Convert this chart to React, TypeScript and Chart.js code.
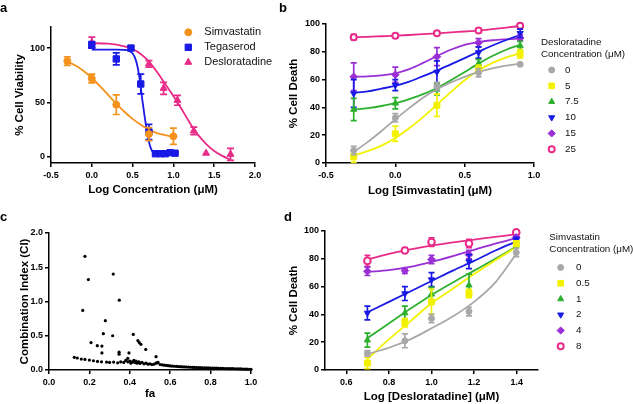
import React, { useEffect, useRef } from 'react';
import { Chart, registerables } from 'chart.js';
import { drawPoint } from 'chart.js/helpers';

Chart.register(...registerables);

const FONT = "'Liberation Sans', Arial, Helvetica, sans-serif";

const ORANGE = '#F5921E';
const BLUE = '#1A1AE6';
const PINK = '#E82B88';
const GRAY = '#A8A8A8';
const YELLOW = '#F2F200';
const GREEN = '#2DB02D';
const PURPLE = '#9A2FD6';

// ---------- Panel a ----------
const aXTicks = [-0.5, 0, 0.5, 1, 1.5, 2];
const aYTicks = [0, 50, 100];
const aSimX = [-0.3, 0, 0.3, 0.7, 1.0];
const aSimY = [88, 72, 48, 21, 19];
const aSimErr = [4, 4, 9, 6, 7.5];
const aSimCurveX = [-0.3, -0.2, -0.1, 0, 0.1, 0.2, 0.3, 0.4, 0.5, 0.6, 0.7, 0.8, 0.9, 1.0];
const aSimCurveY = [87.5, 84, 79, 72.5, 65, 57, 49, 41.5, 35, 29.5, 25, 22, 20, 18.5];
const aTegX = [0, 0.3, 0.48, 0.6, 0.7, 0.78, 0.84, 0.9, 0.96, 1.02];
const aTegY = [103, 90, 100, 67, 23, 3, 3, 3, 4, 3.5];
const aTegErr = [3, 5.5, 2, 9, 7, 1, 1, 1, 1, 1];
const aTegCurveX = [0, 0.1, 0.2, 0.3, 0.4, 0.45, 0.5, 0.53, 0.56, 0.59, 0.62, 0.65, 0.68, 0.71, 0.74, 0.78, 0.85, 1.02];
const aTegCurveY = [98.5, 98.5, 98.5, 98.5, 98.3, 97.5, 95, 91, 83, 70, 52, 36, 22, 11, 5.5, 3.3, 3, 3];
const aDesX = [0, 0.7, 0.88, 1.05, 1.25, 1.4, 1.7];
const aDesY = [105, 85.5, 63, 52, 24, 3.5, 2.5];
const aDesErr = [5, 3, 5.5, 4.5, 3.5, 0, 5.5];
const aDesCurveX = [0, 0.2, 0.4, 0.5, 0.6, 0.7, 0.8, 0.9, 1.0, 1.1, 1.2, 1.25, 1.3, 1.4, 1.5, 1.6, 1.7];
const aDesCurveY = [104.5, 104, 101.5, 99, 94.5, 87.5, 78, 67, 56, 44, 31.5, 25.5, 20.5, 12, 5.5, 1, -2.5];

// ---------- Panel b ----------
const bXTicks = [-0.5, 0, 0.5, 1];
const bYTicks = [0, 20, 40, 60, 80, 100];
const bX = [-0.3, 0, 0.3, 0.6, 0.9];
const bCurveX = [-0.3, -0.2, -0.1, 0, 0.1, 0.2, 0.3, 0.4, 0.5, 0.6, 0.7, 0.8, 0.9];
const b0Y = [9, 32.5, 55, 65, 71];
const b0Err = [3, 3, 3, 3, 1];
const b0Curve = [8, 15, 23, 31.5, 39.5, 47, 53, 58, 62, 65.5, 68, 70, 71.5];
const b5Y = [4.5, 21, 41.5, 67.5, 78.5];
const b5Err = [4, 5.5, 8, 3, 3];
const b5Curve = [5.5, 8.5, 12.5, 18, 25, 33, 42, 51, 59.5, 66.5, 72, 76, 79];
const b75Y = [38.5, 43, 53, 71.5, 84.5];
const b75Err = [8, 4, 4, 3, 3];
const b75Curve = [38.5, 39.5, 41, 43, 46, 49.5, 54, 59.5, 65.5, 71.5, 77, 81.5, 85];
const b10Y = [50, 56, 65.5, 79.5, 93.3];
const b10Err = [10, 4, 8, 4, 3];
const b10Curve = [50.5, 51.5, 53.5, 55.5, 58.5, 62.5, 66.5, 71, 75.5, 80, 84.5, 88.5, 92];
const b15Y = [62, 63.5, 76.5, 86.5, 90];
const b15Err = [10, 5.5, 6.5, 3, 2];
const b15Curve = [62, 62.3, 63, 64.5, 67.5, 72, 77, 81.5, 85, 87, 88.3, 89, 89.5];
const b25Y = [90.5, 91.5, 93.3, 95.3, 98.7];
const b25Err = [2, 1, 1, 1, 1];
const b25Curve = [90.5, 90.8, 91.2, 91.6, 92.1, 92.7, 93.3, 94, 94.6, 95.3, 96.3, 97.4, 98.6];

// ---------- Panel c ----------
const cXTicks = [0, 0.2, 0.4, 0.6, 0.8, 1.0];
const cYTicks = [0, 0.5, 1.0, 1.5, 2.0];
const cDots: [number, number][] = [
  [0.178, 1.66], [0.195, 1.32], [0.318, 1.4], [0.348, 1.02], [0.167, 0.87], [0.279, 0.72],
  [0.269, 0.53], [0.315, 0.5], [0.417, 0.52], [0.208, 0.4], [0.239, 0.355], [0.262, 0.35],
  [0.262, 0.25], [0.44, 0.43], [0.447, 0.4], [0.455, 0.375], [0.479, 0.3], [0.347, 0.26],
  [0.347, 0.23], [0.396, 0.25], [0.53, 0.195], [0.39, 0.17],
  [0.125, 0.185], [0.14, 0.175], [0.16, 0.16], [0.178, 0.155], [0.2, 0.145], [0.22, 0.135],
  [0.24, 0.125], [0.26, 0.12], [0.285, 0.115], [0.3, 0.11], [0.32, 0.115], [0.34, 0.105],
  [0.355, 0.12], [0.37, 0.11], [0.38, 0.14], [0.39, 0.12], [0.4, 0.13], [0.405, 0.1],
  [0.41, 0.115], [0.415, 0.12], [0.42, 0.14], [0.425, 0.11], [0.43, 0.13], [0.435, 0.1],
  [0.44, 0.115], [0.445, 0.12], [0.45, 0.095], [0.46, 0.11], [0.47, 0.09], [0.48, 0.1],
  [0.49, 0.085], [0.5, 0.09], [0.51, 0.08], [0.52, 0.085], [0.53, 0.1], [0.535, 0.105],
  [0.54, 0.11], [0.55, 0.08], [0.56, 0.075], [0.57, 0.07], [0.58, 0.068], [0.59, 0.063],
  [0.6, 0.06], [0.61, 0.058], [0.62, 0.055], [0.63, 0.053], [0.64, 0.05], [0.65, 0.048],
  [0.66, 0.046], [0.67, 0.045], [0.68, 0.044], [0.69, 0.042], [0.7, 0.04], [0.71, 0.039],
  [0.72, 0.038], [0.73, 0.036], [0.74, 0.035], [0.75, 0.034], [0.76, 0.033], [0.77, 0.032],
  [0.78, 0.031], [0.79, 0.03], [0.8, 0.029], [0.81, 0.028], [0.82, 0.027], [0.83, 0.026],
  [0.84, 0.025], [0.85, 0.024], [0.86, 0.023], [0.87, 0.022], [0.88, 0.021], [0.89, 0.02],
  [0.9, 0.019], [0.91, 0.019], [0.92, 0.018], [0.93, 0.017], [0.94, 0.016], [0.95, 0.015],
  [0.96, 0.014], [0.97, 0.013], [0.98, 0.012], [0.99, 0.011], [1.0, 0.01],
];

// ---------- Panel d ----------
const dXTicks = [0.6, 0.8, 1.0, 1.2, 1.4];
const dYTicks = [0, 20, 40, 60, 80, 100];
const dX = [0.699, 0.875, 1.0, 1.176, 1.398];
const dCurveX = [0.7, 0.8, 0.9, 1.0, 1.1, 1.2, 1.3, 1.4];
const d0Y = [12, 21, 37, 42, 84.5];
const d0Err = [2, 5, 3, 3, 3];
const d0Curve = [11.5, 16, 22, 30, 38.5, 49, 63, 84];
const d05Y = [5, 34, 49, 55, 91];
const d05Err = [4, 3, 9, 3, 2];
const d05Curve = [8, 22, 35, 48, 58.5, 69, 79, 88.5];
const d1Y = [21.5, 41, 54.5, 61, 90.5];
const d1Err = [5, 5, 5, 8, 2];
const d1Curve = [23, 33.5, 44, 54, 63, 71.5, 80, 89];
const d2Y = [41, 55, 65, 78, 93.5];
const d2Err = [5, 5, 5, 5, 2];
const d2Curve = [41.5, 49, 56.5, 64, 71.5, 78.5, 86, 92.5];
const d4Y = [71, 71.5, 79.5, 83, 95.5];
const d4Err = [3, 2, 3, 3, 1];
const d4Curve = [70.5, 71.8, 74.2, 77.8, 82, 86.5, 91, 95];
const d8Y = [78.5, 86, 92, 91, 99];
const d8Err = [4, 2, 3, 3, 1];
const d8Curve = [79.5, 83.5, 86.8, 89.5, 91.8, 93.8, 95.8, 97.7];

type Mk = { color: string; style: string; rotation?: number; radius: number; legendRadius: number; hollow?: boolean };

function series(label: string, xs: number[], ys: number[], errs: number[], cx: number[], cy: number[], mk: Mk): any[] {
  const pts = {
    label,
    data: xs.map((x, i) => ({ x, y: ys[i] })),
    showLine: false,
    pointStyle: mk.style,
    pointRotation: mk.rotation || 0,
    pointRadius: mk.radius,
    pointHoverRadius: mk.radius,
    pointBackgroundColor: mk.hollow ? '#fff' : mk.color,
    pointBorderColor: mk.color,
    pointBorderWidth: mk.hollow ? 2 : 1,
    backgroundColor: mk.color,
    borderColor: mk.color,
    errors: errs,
    mk,
    order: 0,
    clip: false,
  };
  const curve = {
    label: label + ' fit',
    data: cx.map((x, i) => ({ x, y: cy[i] })),
    showLine: true,
    pointRadius: 0,
    pointHoverRadius: 0,
    borderColor: mk.color,
    backgroundColor: mk.color,
    borderWidth: 1.8,
    cubicInterpolationMode: 'monotone',
    fill: false,
    order: 1,
    clip: false,
  };
  return [pts, curve];
}

function makeErrorBars(cap: number) {
  return {
    id: 'errorBars',
    beforeDatasetDraw(chart: any, args: any) {
      const ds = chart.data.datasets[args.index];
      if (!ds.errors) return;
      const ys = chart.scales.y;
      const ctx = chart.ctx;
      ctx.save();
      ctx.strokeStyle = ds.mk.color;
      ctx.lineWidth = 1.7;
      args.meta.data.forEach((el: any, i: number) => {
        const e = ds.errors[i];
        if (!e) return;
        const v = ds.data[i].y;
        const t = ys.getPixelForValue(v + e);
        const b = ys.getPixelForValue(v - e);
        ctx.beginPath();
        ctx.moveTo(el.x, t);
        ctx.lineTo(el.x, b);
        ctx.moveTo(el.x - cap, t);
        ctx.lineTo(el.x + cap, t);
        ctx.moveTo(el.x - cap, b);
        ctx.lineTo(el.x + cap, b);
        ctx.stroke();
      });
      ctx.restore();
    },
  };
}

type LegendCfg = {
  titleLines: string[]; titleX: number; titleY: number; titleStep: number;
  markerX: number; textX: number; rowY: number; rowStep: number; fontSize: number;
};

function makeLegend(cfg: LegendCfg) {
  return {
    id: 'sideLegend',
    afterDraw(chart: any) {
      const ctx = chart.ctx;
      ctx.save();
      ctx.font = `${cfg.fontSize}px ${FONT}`;
      ctx.fillStyle = '#111';
      ctx.textAlign = 'left';
      ctx.textBaseline = 'alphabetic';
      cfg.titleLines.forEach((t, i) => ctx.fillText(t, cfg.titleX, cfg.titleY + i * cfg.titleStep));
      const items = chart.data.datasets.filter((d: any) => d.mk);
      items.forEach((d: any, i: number) => {
        const y = cfg.rowY + i * cfg.rowStep;
        const m: Mk = d.mk;
        ctx.fillStyle = m.hollow ? '#fff' : m.color;
        ctx.strokeStyle = m.color;
        ctx.lineWidth = m.hollow ? 2 : 1;
        drawPoint(ctx, { pointStyle: m.style as any, rotation: m.rotation || 0, radius: m.legendRadius, borderWidth: m.hollow ? 2 : 1 }, cfg.markerX, y);
        ctx.fillStyle = '#111';
        ctx.textBaseline = 'middle';
        ctx.fillText(d.label, cfg.textX, y);
      });
      ctx.restore();
    },
  };
}

function axis(o: { min: number; max: number; ticks: number[]; fmt: (v: number) => string; title: string; titlePad: number; size: number; horizontal: boolean }) {
  return {
    type: 'linear',
    position: o.horizontal ? 'bottom' : 'left',
    min: o.min,
    max: o.max,
    afterBuildTicks: (s: any) => { s.ticks = o.ticks.map((v) => ({ value: v })); },
    afterFit: (s: any) => { if (o.horizontal) s.height = o.size; else s.width = o.size; },
    ticks: {
      autoSkip: false, maxRotation: 0, minRotation: 0,
      padding: o.horizontal ? 3 : 2,
      color: '#000',
      font: { family: FONT, size: 9, weight: 'bold' },
      callback: (v: any) => o.fmt(Number(v)),
    },
    grid: { display: true, drawOnChartArea: false, drawTicks: true, tickLength: 4, tickWidth: 1.5, color: '#000', lineWidth: 1.5 },
    border: { display: true, color: '#000', width: 1.5 },
    title: {
      display: true, text: o.title, color: '#000',
      font: { family: FONT, size: 11.5, weight: 'bold', lineHeight: 1.2 },
      padding: o.horizontal ? { top: 0, bottom: o.titlePad } : { top: o.titlePad, bottom: 0 },
    },
  };
}

const f1 = (v: number) => v.toFixed(1);
const f0 = (v: number) => v.toFixed(0);

function baseOptions(padding: any, scales: any) {
  return {
    responsive: false,
    animation: false,
    devicePixelRatio: 1,
    events: [],
    layout: { padding },
    plugins: { legend: { display: false }, tooltip: { enabled: false } },
    scales,
  };
}

function configA(): any {
  const datasets = [
    ...series('Simvastatin', aSimX, aSimY, aSimErr, aSimCurveX, aSimCurveY, { color: ORANGE, style: 'circle', radius: 3.5, legendRadius: 3.5 }),
    ...series('Tegaserod', aTegX, aTegY, aTegErr, aTegCurveX, aTegCurveY, { color: BLUE, style: 'rect', radius: 4.5, legendRadius: 4.5 }),
    ...series('Desloratadine', aDesX, aDesY, aDesErr, aDesCurveX, aDesCurveY, { color: PINK, style: 'triangle', radius: 4, legendRadius: 4 }),
  ];
  return {
    type: 'scatter',
    data: { datasets },
    options: baseOptions({ left: 0, top: 27, right: 25, bottom: 0 }, {
      x: axis({ min: -0.5, max: 2.0, ticks: aXTicks, fmt: f1, title: 'Log Concentration (μM)', titlePad: 5, size: 39, horizontal: true }),
      y: axis({ min: -5.5, max: 119.3, ticks: aYTicks, fmt: f0, title: '% Cell Viability', titlePad: 13, size: 51, horizontal: false }),
    }),
    plugins: [makeErrorBars(3.5), makeLegend({ titleLines: [], titleX: 0, titleY: 0, titleStep: 0, markerX: 188.3, textX: 204.3, rowY: 32.3, rowStep: 15, fontSize: 11 })],
  };
}

function configB(): any {
  const datasets = [
    ...series('0', bX, b0Y, b0Err, bCurveX, b0Curve, { color: GRAY, style: 'circle', radius: 3, legendRadius: 3 }),
    ...series('5', bX, b5Y, b5Err, bCurveX, b5Curve, { color: YELLOW, style: 'rect', radius: 4.2, legendRadius: 4 }),
    ...series('7.5', bX, b75Y, b75Err, bCurveX, b75Curve, { color: GREEN, style: 'triangle', radius: 3.6, legendRadius: 3.5 }),
    ...series('10', bX, b10Y, b10Err, bCurveX, b10Curve, { color: BLUE, style: 'triangle', rotation: 180, radius: 3.6, legendRadius: 3.5 }),
    ...series('15', bX, b15Y, b15Err, bCurveX, b15Curve, { color: PURPLE, style: 'rectRot', radius: 3.8, legendRadius: 3.6 }),
    ...series('25', bX, b25Y, b25Err, bCurveX, b25Curve, { color: PINK, style: 'circle', radius: 3, legendRadius: 3, hollow: true }),
  ];
  return {
    type: 'scatter',
    data: { datasets },
    options: baseOptions({ left: 0, top: 24, right: 99, bottom: 0 }, {
      x: axis({ min: -0.5, max: 1.0, ticks: bXTicks, fmt: f1, title: 'Log [Simvastatin] (μM)', titlePad: 4, size: 39, horizontal: true }),
      y: axis({ min: 0, max: 100, ticks: bYTicks, fmt: f0, title: '% Cell Death', titlePad: 7, size: 46, horizontal: false }),
    }),
    plugins: [makeErrorBars(3), makeLegend({ titleLines: ['Desloratadine', 'Concentration (μM)'], titleX: 261, titleY: 45, titleStep: 11.7, markerX: 271.7, textX: 285, rowY: 70, rowStep: 15.85, fontSize: 9.8 })],
  };
}

function configC(): any {
  const datasets = [
    {
      label: 'CI',
      data: cDots.map(([x, y]) => ({ x, y })),
      showLine: false,
      pointStyle: 'circle',
      pointRadius: 1.6,
      pointHoverRadius: 1.6,
      pointBackgroundColor: '#000',
      pointBorderColor: '#000',
      pointBorderWidth: 0,
      clip: false,
    },
  ];
  return {
    type: 'scatter',
    data: { datasets },
    options: baseOptions({ left: 0, top: 31, right: 29, bottom: 0 }, {
      x: axis({ min: 0, max: 1.0, ticks: cXTicks, fmt: f1, title: 'fa', titlePad: 3, size: 34, horizontal: true }),
      y: axis({ min: 0, max: 2.0, ticks: cYTicks, fmt: f1, title: 'Combination Index (CI)', titlePad: 18, size: 49, horizontal: false }),
    }),
  };
}

function configD(): any {
  const datasets = [
    ...series('0', dX, d0Y, d0Err, dCurveX, d0Curve, { color: GRAY, style: 'circle', radius: 3, legendRadius: 3 }),
    ...series('0.5', dX, d05Y, d05Err, dCurveX, d05Curve, { color: YELLOW, style: 'rect', radius: 4.2, legendRadius: 4 }),
    ...series('1', dX, d1Y, d1Err, dCurveX, d1Curve, { color: GREEN, style: 'triangle', radius: 3.6, legendRadius: 3.5 }),
    ...series('2', dX, d2Y, d2Err, dCurveX, d2Curve, { color: BLUE, style: 'triangle', rotation: 180, radius: 3.6, legendRadius: 3.5 }),
    ...series('4', dX, d4Y, d4Err, dCurveX, d4Curve, { color: PURPLE, style: 'rectRot', radius: 3.8, legendRadius: 3.6 }),
    ...series('8', dX, d8Y, d8Err, dCurveX, d8Curve, { color: PINK, style: 'circle', radius: 3.3, legendRadius: 3, hollow: true }),
  ];
  return {
    type: 'scatter',
    data: { datasets },
    options: baseOptions({ left: 0, top: 29, right: 95, bottom: 0 }, {
      x: axis({ min: 0.5, max: 1.5, ticks: dXTicks, fmt: f1, title: 'Log [Desloratadine] (μM)', titlePad: 0, size: 34, horizontal: true }),
      y: axis({ min: 0, max: 100, ticks: dYTicks, fmt: f0, title: '% Cell Death', titlePad: 7, size: 45, horizontal: false }),
    }),
    plugins: [makeErrorBars(3), makeLegend({ titleLines: ['Simvastatin', 'Concentration (μM)'], titleX: 269.3, titleY: 38, titleStep: 11.7, markerX: 280.7, textX: 296, rowY: 65.5, rowStep: 15.75, fontSize: 9.8 })],
  };
}

function Panel({ left, top, width, height, make }: { left: number; top: number; width: number; height: number; make: () => any }) {
  const ref = useRef<HTMLCanvasElement>(null);
  useEffect(() => {
    const chart = new Chart(ref.current as HTMLCanvasElement, make());
    return () => chart.destroy();
  }, []);
  return (
    <canvas
      ref={ref}
      width={width}
      height={height}
      style={{ position: 'absolute', left, top, width, height }}
    />
  );
}

const labelStyle: React.CSSProperties = {
  position: 'absolute',
  font: `bold 13px ${FONT}`,
  lineHeight: '13px',
  color: '#000',
};

export default function App() {
  return (
    <div style={{ position: 'fixed', left: 0, top: 0, width: 633, height: 404, background: '#fff', overflow: 'hidden' }}>
      <Panel left={0} top={0} width={280} height={202} make={configA} />
      <Panel left={280} top={0} width={353} height={202} make={configB} />
      <Panel left={0} top={202} width={280} height={202} make={configC} />
      <Panel left={280} top={202} width={353} height={202} make={configD} />
      <div style={{ ...labelStyle, left: 0, top: 1 }}>a</div>
      <div style={{ ...labelStyle, left: 279, top: 1 }}>b</div>
      <div style={{ ...labelStyle, left: 0, top: 210 }}>c</div>
      <div style={{ ...labelStyle, left: 284, top: 210 }}>d</div>
    </div>
  );
}
